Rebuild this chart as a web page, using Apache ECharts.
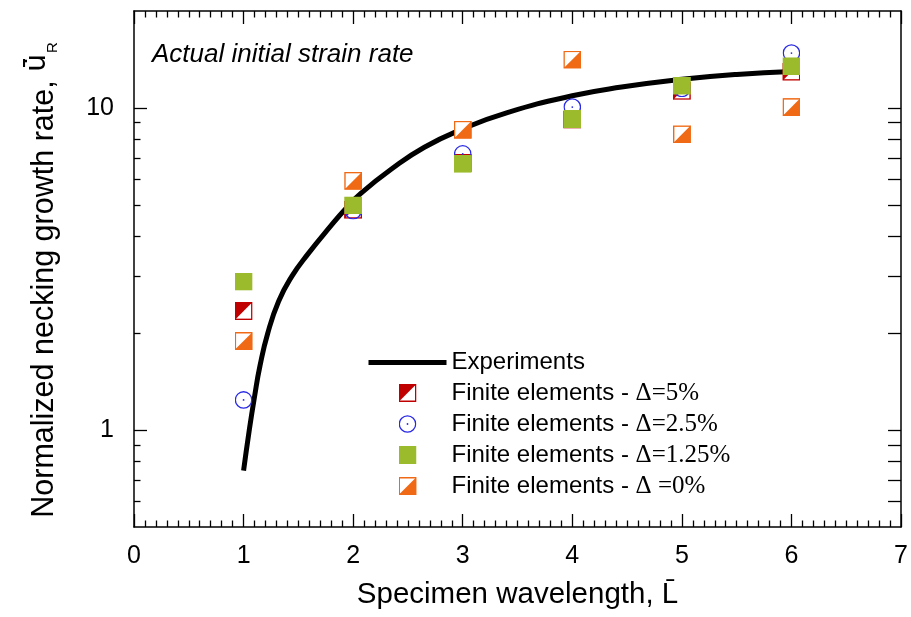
<!DOCTYPE html>
<html>
<head>
<meta charset="utf-8">
<script src="https://cdn.jsdelivr.net/npm/echarts@6/dist/echarts.min.js"></script>
<style>
  html, body { margin: 0; padding: 0; background: #fff; }
  #chart { width: 911px; height: 617px; }
</style>
</head>
<body>
<div id="chart"></div>
<script>
// specimen wavelengths of the finite element runs
const wavelengths = [1, 2, 3, 4, 5, 6];
// normalized necking growth rate per imperfection size
const fe5 = [2.34, 4.83, 6.75, 9.2, 11.3, 12.96];
const fe25 = [1.24, 4.80, 7.2, 10.06, 11.5, 14.8];
const fe125 = [2.89, 4.98, 6.71, 9.24, 11.73, 13.47];
const fe0 = [1.89, 5.94, 8.56, 14.13, 8.28, 10.06];
const expX = [1.0, 1.05, 1.1, 1.15, 1.22, 1.32, 1.44, 1.59, 1.79, 1.94, 2.07, 2.35, 2.65, 3.0, 3.4, 4.0, 4.45, 5.0, 5.5, 6.0];
const expY = [0.748, 0.989, 1.27, 1.585, 1.995, 2.51, 3.0, 3.53, 4.28, 4.9, 5.43, 6.46, 7.55, 8.61, 9.66, 10.91, 11.61, 12.27, 12.71, 12.97];
// y tick marks (log axis)
const yMajorTicks = [1, 10];
const yMinorTicks = [0.6, 0.7, 0.8, 0.9, 2, 3, 4, 5, 6, 7, 8, 9];

const seriesNames = [
    'Finite elements - Δ=5%',
    'Finite elements - Δ=2.5%',
    'Finite elements - Δ=1.25%',
    'Finite elements - Δ =0%'
];

const RED = '#c00000';
const BLUE = '#2a2ae6';
const GREEN = '#9bbb2d';
const ORANGE = '#f06914';

function svgIcon(body) {
    const svg = "<svg xmlns='http://www.w3.org/2000/svg' width='18' height='18' viewBox='0 0 18 18'>" + body + '</svg>';
    return 'image://data:image/svg+xml;charset=utf-8,' + encodeURIComponent(svg);
}

const redIcon = svgIcon(
    "<rect x='0.75' y='0.75' width='16.5' height='16.5' fill='#fff' stroke='" + RED + "' stroke-width='1.5'/>" +
    "<path d='M0 0 L18 0 L0 18 Z' fill='" + RED + "'/>"
);
const orangeIcon = svgIcon(
    "<rect x='0.75' y='0.75' width='16.5' height='16.5' fill='#fff' stroke='" + ORANGE + "' stroke-width='1.5'/>" +
    "<path d='M18 0 L18 18 L0 18 Z' fill='" + ORANGE + "'/>"
);
const circleIcon = svgIcon(
    "<circle cx='9' cy='9' r='8.2' fill='none' stroke='" + BLUE + "' stroke-width='1.3'/>" +
    "<circle cx='9' cy='9' r='0.9' fill='" + BLUE + "'/>"
);
const greenIcon = svgIcon("<rect x='0' y='0' width='18' height='18' fill='" + GREEN + "'/>");

const pairs = (ys) => wavelengths.map((x, i) => [x, ys[i]]);

const FONT = 'Liberation Sans';
const lg = Math.log10;
const yMinLog = lg(0.5), yMaxLog = lg(20);
const tickLine = { color: '#000', width: 1.3 };
const frameLine = { onZero: false, lineStyle: { color: '#000', width: 1.5 } };

const chart = echarts.init(document.getElementById('chart'));

const option = {
    animation: false,
    backgroundColor: '#fff',
    title: {
        text: 'Actual initial strain rate',
        left: 147,
        top: 37,
        textStyle: { fontFamily: FONT, fontSize: 26, fontStyle: 'italic', fontWeight: 'normal', color: '#000' }
    },
    grid: { left: 134, right: 3, top: 11, bottom: 90 },
    legend: {
        orient: 'vertical',
        left: 366,
        top: 350.5,
        padding: 0,
        itemWidth: 78,
        itemHeight: 18,
        itemGap: 6,
        lineStyle: { width: 'inherit' },
        data: [{ name: 'Experiments', itemStyle: { opacity: 0 } }].concat(seriesNames),
        formatter: (name) => {
            const k = name.indexOf(' - ');
            if (k < 0) return '{a|' + name + '}';
            return '{a|' + name.slice(0, k + 3) + '}{d|' + name.slice(k + 3) + '}';
        },
        textStyle: {
            color: '#000',
            rich: {
                a: { fontFamily: FONT, fontSize: 24, color: '#000' },
                d: { fontFamily: 'Liberation Serif', fontSize: 25, color: '#000' }
            }
        }
    },
    xAxis: [
        {
            type: 'value', position: 'bottom', min: 0, max: 7, interval: 1,
            name: 'Specimen wavelength, L\u0304',
            nameLocation: 'middle', nameGap: 53,
            nameTextStyle: { fontFamily: FONT, fontSize: 29.5, color: '#000' },
            axisLine: frameLine,
            axisTick: { inside: true, length: 13, lineStyle: tickLine },
            minorTick: { show: true, splitNumber: 10, length: 6.5, lineStyle: tickLine },
            axisLabel: { fontFamily: FONT, fontSize: 25, color: '#000', margin: 17 },
            splitLine: { show: false }
        },
        {
            type: 'value', position: 'top', min: 0, max: 7, interval: 1,
            axisLine: frameLine,
            axisTick: { inside: true, length: 13, lineStyle: tickLine },
            minorTick: { show: true, splitNumber: 10, length: 6.5, lineStyle: tickLine },
            axisLabel: { show: false },
            splitLine: { show: false }
        }
    ],
    yAxis: [
        {
            type: 'log', logBase: 10, min: 0.5, max: 20, position: 'left',
            name: '{a|Normalized necking growth rate, }{u|\u016B\u0307}{s|R}',
            nameLocation: 'middle', nameGap: 74, nameRotate: 90,
            nameTextStyle: {
                rich: {
                    a: { fontFamily: FONT, fontSize: 30.5, color: '#000', verticalAlign: 'bottom' },
                    u: { fontFamily: 'DejaVu Sans', fontSize: 28, color: '#000', verticalAlign: 'bottom', padding: [0, 0, 8, 0] },
                    s: { fontFamily: FONT, fontSize: 15, color: '#000', verticalAlign: 'bottom', padding: [0, 22, 0, 1] }
                }
            },
            axisLine: { show: true, onZero: false, lineStyle: { color: '#000', width: 1.5 } },
            axisTick: { show: false },
            axisLabel: {
                fontFamily: FONT, fontSize: 25, color: '#000', margin: 20,
                showMinLabel: false, showMaxLabel: false,
                padding: [10, 0, 0, 0]
            },
            splitLine: { show: false }
        },
        {
            type: 'value', min: yMinLog, max: yMaxLog, position: 'left',
            axisLine: { show: false, onZero: false },
            axisTick: { show: true, inside: true, length: 13, customValues: yMajorTicks.map(lg), lineStyle: tickLine },
            axisLabel: { show: false },
            splitLine: { show: false }
        },
        {
            type: 'value', min: yMinLog, max: yMaxLog, position: 'left',
            axisLine: { show: false, onZero: false },
            axisTick: { show: true, inside: true, length: 6.5, customValues: yMinorTicks.map(lg), lineStyle: tickLine },
            axisLabel: { show: false },
            splitLine: { show: false }
        },
        {
            type: 'value', min: yMinLog, max: yMaxLog, position: 'right',
            axisLine: { show: true, onZero: false, lineStyle: { color: '#000', width: 1.5 } },
            axisTick: { show: true, inside: true, length: 13, customValues: yMajorTicks.concat(yMinorTicks).map(lg), lineStyle: tickLine },
            axisLabel: { show: false },
            splitLine: { show: false }
        }
    ],
    series: [
        {
            name: 'Experiments',
            type: 'line',
            data: expX.map((x, i) => [x, expY[i]]),
            smooth: 0.5,
            symbol: 'none',
            lineStyle: { color: '#000', width: 5 },
            itemStyle: { color: '#000' },
            z: 2
        },
        {
            name: seriesNames[0], type: 'scatter', data: pairs(fe5),
            symbol: redIcon, symbolSize: 18, symbolKeepAspect: true, itemStyle: { color: RED, opacity: 1 }, z: 3
        },
        {
            name: seriesNames[1], type: 'scatter', data: pairs(fe25),
            symbol: circleIcon, symbolSize: 18, symbolKeepAspect: true, itemStyle: { color: BLUE, opacity: 1 }, z: 4
        },
        {
            name: seriesNames[2], type: 'scatter', data: pairs(fe125),
            symbol: greenIcon, symbolSize: 18, symbolKeepAspect: true, itemStyle: { color: GREEN, opacity: 1 }, z: 5
        },
        {
            name: seriesNames[3], type: 'scatter', data: pairs(fe0),
            symbol: orangeIcon, symbolSize: 18, symbolKeepAspect: true, itemStyle: { color: ORANGE, opacity: 1 }, z: 6
        }
    ]
};

chart.setOption(option);
</script>
</body>
</html>
